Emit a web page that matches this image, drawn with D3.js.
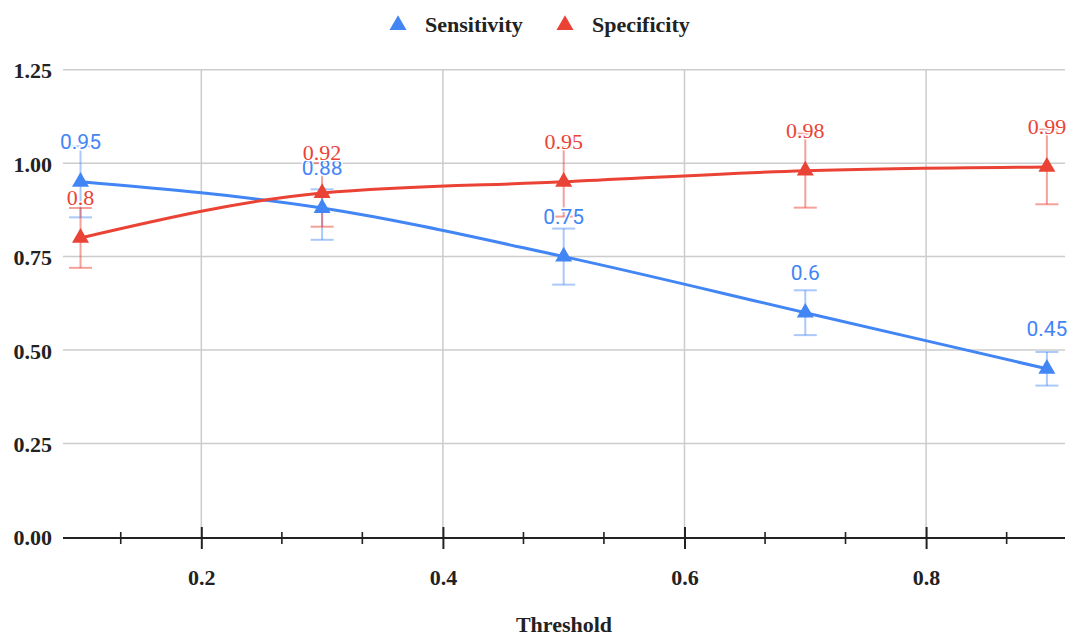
<!DOCTYPE html>
<html>
<head>
<meta charset="utf-8">
<script src="https://cdn.jsdelivr.net/npm/d3@7"></script>
<style>
  html, body { margin: 0; padding: 0; background: #fff; }
  svg { display: block; }
</style>
</head>
<body>
<script>
// ---- data ----
const thresholds   = [0.1, 0.3, 0.5, 0.7, 0.9];
const sensitivity  = [0.95, 0.88, 0.75, 0.6, 0.45];
const specificity  = [0.8, 0.92, 0.95, 0.98, 0.99];
const sensLow      = [0.855, 0.795, 0.675, 0.54, 0.405];
const sensHigh     = [1.045, 0.93, 0.825, 0.66, 0.495];
const specLow      = [0.72, 0.83, 0.857, 0.881, 0.89];
const specHigh     = [0.88, 1.0, 1.043, 1.079, 1.09];
const xMajorTicks  = [0.2, 0.4, 0.6, 0.8];
const xMinorTicks  = [0.1333, 0.2667, 0.3333, 0.4667, 0.5333, 0.6667, 0.7333, 0.8667];
const yTicks       = [0, 0.25, 0.5, 0.75, 1.0, 1.25];
const seriesNames  = ["Sensitivity", "Specificity"];

const W = 1071, H = 633;
const svg = d3.select("body").append("svg").attr("width", W).attr("height", H);

const x = d3.scaleLinear().domain([0.0855, 0.915]).range([63, 1065]);
const y = d3.scaleLinear().domain([0, 1.25]).range([537, 69.7]);

const serif = "'Liberation Serif', 'Times New Roman', serif";
const colors = ["#4285F4", "#EA4335"];

// gridlines
const grid = svg.append("g");
grid.selectAll("line.h").data(yTicks.filter(d => d > 0)).join("line")
  .attr("x1", x.range()[0]).attr("x2", x.range()[1])
  .attr("y1", d => y(d)).attr("y2", d => y(d))
  .attr("stroke", "#cccccc").attr("stroke-width", 1.5);
grid.selectAll("line.v").data(xMajorTicks).join("line")
  .attr("x1", d => x(d)).attr("x2", d => x(d))
  .attr("y1", y(1.25)).attr("y2", y(0))
  .attr("stroke", "#cccccc").attr("stroke-width", 1.5);

// y axis labels
const yAxis = svg.append("g").attr("transform", `translate(${x.range()[0]},0)`)
  .call(d3.axisLeft(y).tickValues(yTicks).tickFormat(d3.format(".2f")).tickSize(0).tickPadding(11));
yAxis.select(".domain").remove();
yAxis.selectAll("text").attr("font-family", serif).attr("font-weight", "bold")
  .attr("font-size", 22).attr("fill", "#222").attr("dy", "0.36em");

// x axis
const xAxisG = svg.append("g").attr("transform", `translate(0,${y(0) + 1})`);
xAxisG.call(d3.axisBottom(x).tickValues(xMajorTicks).tickFormat(d3.format(".1f")).tickSize(11).tickPadding(20));
xAxisG.select(".domain").attr("d", `M${x.range()[0]},0H${x.range()[1]}`).attr("stroke", "#222").attr("stroke-width", 2);
xAxisG.selectAll(".tick line").attr("y1", -11).attr("stroke", "#222").attr("stroke-width", 2);
xAxisG.selectAll(".tick text").attr("font-family", serif).attr("font-weight", "bold")
  .attr("font-size", 22).attr("fill", "#222");
xAxisG.selectAll("line.minor").data(xMinorTicks).join("line").attr("class", "minor")
  .attr("x1", d => x(d)).attr("x2", d => x(d)).attr("y1", -6).attr("y2", 6)
  .attr("stroke", "#222").attr("stroke-width", 1.6);

// x title
svg.append("text").attr("x", (x.range()[0] + x.range()[1]) / 2).attr("y", 632)
  .attr("text-anchor", "middle").attr("font-family", serif).attr("font-weight", "bold")
  .attr("font-size", 22).attr("fill", "#222").text("Threshold");

const series = [
  { name: seriesNames[0], vals: sensitivity, lo: sensLow, hi: sensHigh, color: colors[0], op: 0.45 },
  { name: seriesNames[1], vals: specificity, lo: specLow, hi: specHigh, color: colors[1], op: 0.5 }
];

// intervals
series.forEach(s => {
  const g = svg.append("g").attr("stroke", s.color).attr("stroke-opacity", s.op).attr("stroke-width", 2);
  thresholds.forEach((t, i) => {
    g.append("line").attr("x1", x(t)).attr("x2", x(t)).attr("y1", y(s.lo[i])).attr("y2", y(s.hi[i]));
    [s.lo[i], s.hi[i]].forEach(v => {
      g.append("line").attr("x1", x(t) - 11.5).attr("x2", x(t) + 11.5).attr("y1", y(v)).attr("y2", y(v));
    });
  });
});

// lines
const line = d3.line().x(d => x(d[0])).y(d => y(d[1])).curve(d3.curveMonotoneX);
series.forEach(s => {
  svg.append("path").datum(thresholds.map((t, i) => [t, s.vals[i]]))
    .attr("d", line).attr("fill", "none").attr("stroke", s.color).attr("stroke-width", 3);
});

// markers
const tri = d3.symbol().type(d3.symbolTriangle).size(125);
series.forEach(s => {
  svg.append("g").selectAll("path").data(thresholds.map((t, i) => [t, s.vals[i]])).join("path")
    .attr("d", tri).attr("transform", d => `translate(${x(d[0])},${y(d[1])})`).attr("fill", s.color);
});

// annotations
const fonts = ["Roboto, Arial, sans-serif", serif];
const fsz = [21, 22];
series.forEach((s, k) => {
  svg.append("g").selectAll("text").data(thresholds.map((t, i) => [t, s.vals[i]])).join("text")
    .attr("x", d => x(d[0])).attr("y", d => y(d[1]) - 33)
    .attr("text-anchor", "middle").attr("font-family", fonts[k]).attr("font-size", fsz[k])
    .attr("fill", s.color).attr("stroke", "#fff").attr("stroke-width", 3).attr("paint-order", "stroke")
    .text(d => String(d[1]));
});

// legend
const legendX = [398, 565];
series.forEach((s, k) => {
  svg.append("path").attr("d", tri).attr("transform", `translate(${legendX[k]},${25})`).attr("fill", s.color);
  svg.append("text").attr("x", legendX[k] + 27).attr("y", 31.5)
    .attr("font-family", serif).attr("font-weight", "bold").attr("font-size", 22).attr("fill", "#222")
    .text(s.name);
});
</script>
</body>
</html>
